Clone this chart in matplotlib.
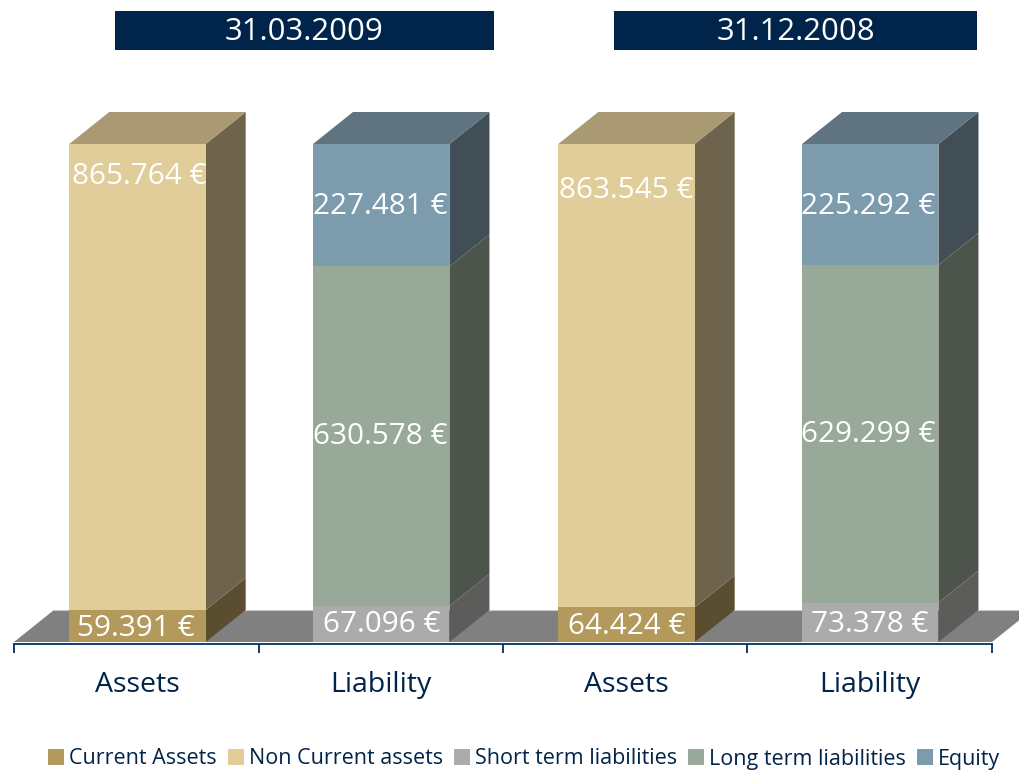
import matplotlib
matplotlib.use("Agg")
import matplotlib.pyplot as plt
from matplotlib.patches import Polygon, Rectangle

# ---- data ----
categories = ["Assets", "Liability", "Assets", "Liability"]
periods = ["31.03.2009", "31.12.2008"]
current_assets = [59391, 0, 64424, 0]
non_current_assets = [865764, 0, 863545, 0]
short_term = [0, 67096, 0, 73378]
long_term = [0, 630578, 0, 629299]
equity = [0, 227481, 0, 225292]
series_names = ["Current Assets", "Non Current assets", "Short term liabilities",
                "Long term liabilities", "Equity"]

# ---- style / layout ----
W, H = 1019, 771
NAVY = "#00244A"
front = ["#B39A5C", "#E0CD9A", "#ABABAB", "#98A899", "#7C9BAD"]
side = ["#5B4E30", "#6E644E", "#5C5C5A", "#4D544C", "#414E56"]
top = ["#8A7A50", "#A99A74", "#808080", "#707C70", "#5F7480"]
FONT = "Open Sans"
bar_x = [0.505, 1.502, 2.505, 3.502]
bar_w = 0.558
# label centre (pixel height, pixel x shift) for each segment (series, bar)
label_pos = {(0, 0): (629, -2), (1, 0): (177, 2), (2, 1): (625, 1), (3, 1): (437, -1), (4, 1): (207, -1),
             (0, 2): (627, 0), (1, 2): (190, 0), (2, 3): (625, 0), (3, 3): (435, -2), (4, 3): (206, -2)}
AX_L, AX_R, AX_B, AX_T = 14, 992, 642, 144
dx = 40 / (AX_R - AX_L) * 4
dy = 32 / (AX_B - AX_T)

fig = plt.figure(figsize=(W / 100, H / 100), dpi=100, facecolor="white")
ax = fig.add_axes([AX_L / W, 1 - AX_B / H, (AX_R - AX_L) / W, (AX_B - AX_T) / H])
ax.set_xlim(0, 4)
ax.set_ylim(0, 1)
ax.patch.set_visible(False)

# floor
ax.add_patch(Polygon([(0, 0), (4, 0), (4 + dx, dy), (dx, dy)], closed=True,
                     facecolor="#808080", edgecolor="none", zorder=1, clip_on=False))
ax.plot([dx, 4 + dx], [dy, dy], color="#C8C8C8", lw=0.8, zorder=1.1, clip_on=False)

series = [current_assets, non_current_assets, short_term, long_term, equity]
totals = [sum(s[i] for s in series) for i in range(4)]
handles = []
for k, s in enumerate(series):
    bottoms = [sum(series[j][i] for j in range(k)) / totals[i] for i in range(4)]
    fracs = [s[i] / totals[i] for i in range(4)]
    handle = ax.bar(bar_x, fracs, bar_w, bottom=bottoms, color=front[k], zorder=3, linewidth=0)
    handles.append(handle)
    for i in range(4):
        if s[i] == 0:
            continue
        x1 = bar_x[i] + bar_w / 2
        x0 = bar_x[i] - bar_w / 2
        b, t = bottoms[i], bottoms[i] + fracs[i]
        ax.add_patch(Polygon([(x1, b), (x1 + dx, b + dy), (x1 + dx, t + dy), (x1, t)], closed=True,
                             facecolor=side[k], edgecolor="none", zorder=2.5, clip_on=False))
        if abs(t - 1) < 1e-9:
            ax.add_patch(Polygon([(x0, t), (x1, t), (x1 + dx, t + dy), (x0 + dx, t + dy)], closed=True,
                                 facecolor=top[k], edgecolor="none", zorder=2.5, clip_on=False))
        py, shift = label_pos[(k, i)]
        ax.text(bar_x[i] + shift / (AX_R - AX_L) * 4, (AX_B - py) / (AX_B - AX_T),
                f"{s[i]:,}".replace(",", ".") + " €", color="white", fontsize=21.4,
                family=FONT, ha="center", va="center", zorder=5)

# axis
for sp in ["top", "left", "right"]:
    ax.spines[sp].set_visible(False)
ax.spines["bottom"].set_position(("outward", 1.2))
ax.spines["bottom"].set_color("#003060")
ax.spines["bottom"].set_linewidth(1.3)
ax.spines["bottom"].set_zorder(6)
ax.set_yticks([])
ax.set_xticks([0, 1, 2, 3, 4])
ax.set_xticklabels([])
ax.tick_params(axis="x", which="major", length=6.5, width=1.3, color="#003060")
ax.set_xticks(bar_x, minor=True)
ax.set_xticklabels(categories, minor=True, fontsize=20.5, family=FONT, color=NAVY)
ax.tick_params(axis="x", which="minor", length=0, pad=19.5)

# period headers
for (x0, x1), label in zip([(115, 494), (614, 977)], periods):
    fig.patches.append(Rectangle((x0 / W, 1 - 50 / H), (x1 - x0) / W, 39 / H,
                                 transform=fig.transFigure, facecolor=NAVY, edgecolor="none"))
    fig.text((x0 + x1) / 2 / W, 1 - 32 / H, label, color="white", fontsize=22.4,
             family=FONT, ha="center", va="center")

# legend
leg = fig.legend([h[0] if k in (0, 1) else h[1] for k, h in enumerate(handles)], series_names,
                 loc="center left", bbox_to_anchor=(48 / W, 1 - 759 / H), ncol=5, frameon=False,
                 handlelength=0.75, handleheight=0.75, handletextpad=0.24, columnspacing=0.5,
                 borderpad=0, borderaxespad=0,
                 prop={"family": FONT, "size": 15.5})
for t in leg.get_texts():
    t.set_color(NAVY)

fig.savefig("out.png", dpi=100)
